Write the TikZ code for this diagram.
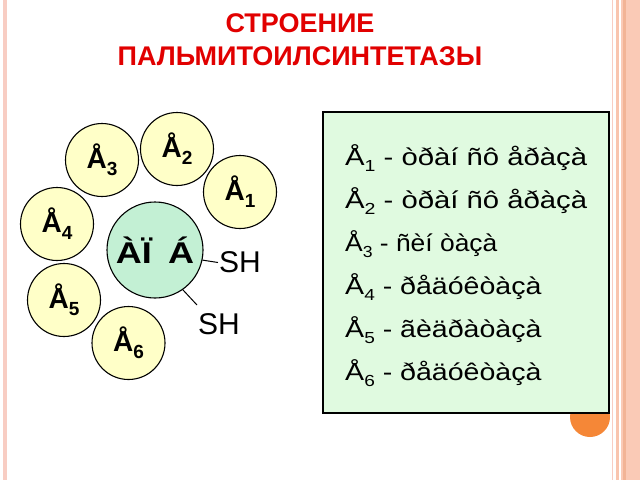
\documentclass[tikz,border=0pt]{standalone}
\usepackage{fontspec}
\usepackage{graphicx}
\setmainfont{Liberation Sans}
\definecolor{ecol}{RGB}{255,255,200}
\definecolor{ccol}{RGB}{195,240,212}
\definecolor{bcol}{RGB}{224,250,224}
\definecolor{tred}{RGB}{225,0,0}
\definecolor{orng}{RGB}{245,135,55}
\definecolor{peach}{RGB}{250,202,182}
\definecolor{peachd}{RGB}{242,180,150}
\definecolor{pinkl}{RGB}{248,205,195}
\newcommand{\lowd}[1]{\raisebox{-0.28em}{\fontsize{16}{16}\selectfont #1}}
\newcommand{\lowb}[1]{\raisebox{-0.25em}{\fontsize{19}{19}\selectfont #1}}
\newcommand{\wl}[2]{\scalebox{#1}[1]{#2}}
\tikzset{
  ecirc/.style={circle,draw=black,line width=1.1pt,fill=ecol,minimum size=73pt,inner sep=0pt,font=\fontsize{28}{28}\selectfont\bfseries},
  ccirc/.style={circle,draw=black,line width=1.1pt,fill=ccol,minimum size=96pt,inner sep=0pt,font=\fontsize{30}{30}\selectfont\bfseries},
  shtxt/.style={inner sep=1pt,font=\fontsize{30}{30}\selectfont},
  titletxt/.style={text=tred,font=\fontsize{27}{27}\selectfont\bfseries,anchor=base,inner sep=0pt},
  boxtxt/.style={anchor=base west,inner sep=0pt,font=\fontsize{24}{24}\selectfont},
  conn/.style={line width=1pt,black}
}
\begin{document}
\begin{tikzpicture}[x=1pt,y=-1pt]
\useasboundingbox (0,0) rectangle (640,480);
\fill[white] (0,0) rectangle (640,480);
% side borders
\fill[pinkl] (3,0) rectangle (7,480);
\fill[pinkl] (611.5,0) rectangle (613,480);
\fill[pinkl!90!orange] (615.5,0) rectangle (618.5,480);
\fill[peach] (621,0) rectangle (640,480);
\fill[peachd] (623,0) rectangle (625.5,480);
% title
\node[titletxt] (t1) at (300,32) {СТРОЕНИЕ};
\node[titletxt] (t2) at (300,65) {ПАЛЬМИТОИЛСИНТЕТАЗЫ};
% circles
\node[ecirc] (e1) at (240,192) {Å\lowb{1}};
\node[ecirc] (e2) at (177,149) {Å\lowb{2}};
\node[ecirc] (e3) at (102,160) {Å\lowb{3}};
\node[ecirc] (e4) at (57,224) {Å\lowb{4}};
\node[ecirc] (e5) at (64,300) {Å\lowb{5}};
\node[ecirc] (e6) at (128.5,343) {Å\lowb{6}};
\node[ccirc] (c) at (155,250) {\wl{1.2}{ÀÏ\hspace{0.45em}Á}};
\node[shtxt] (sh1) at (240,262.5) {SH};
\node[shtxt] (sh2) at (219,324) {SH};
\coordinate (t2end) at (197,305);
\draw[conn] (c.-12) -- (sh1.west);
\draw[conn] (c.-55) -- (t2end);
% orange dot and legend box
\fill[orng] (590,417) circle (20);
\node[draw=black,line width=1.6pt,fill=bcol,minimum width=286pt,minimum height=301pt,inner sep=0pt] (box) at (466,262.5) {};
\node[boxtxt] (l1) at (345,165) {\wl{1.22}{Å\lowd{1} - òðàí ñô åðàçà}};
\node[boxtxt] (l2) at (345,208) {\wl{1.22}{Å\lowd{2} - òðàí ñô åðàçà}};
\node[boxtxt] (l3) at (345,251) {\wl{1.1}{Å\lowd{3} - ñèí òàçà}};
\node[boxtxt] (l4) at (345,294) {\wl{1.19}{Å\lowd{4} - ðåäóêòàçà}};
\node[boxtxt] (l5) at (345,337) {\wl{1.19}{Å\lowd{5} - ãèäðàòàçà}};
\node[boxtxt] (l6) at (345,380) {\wl{1.19}{Å\lowd{6} - ðåäóêòàçà}};
\end{tikzpicture}
\end{document}
